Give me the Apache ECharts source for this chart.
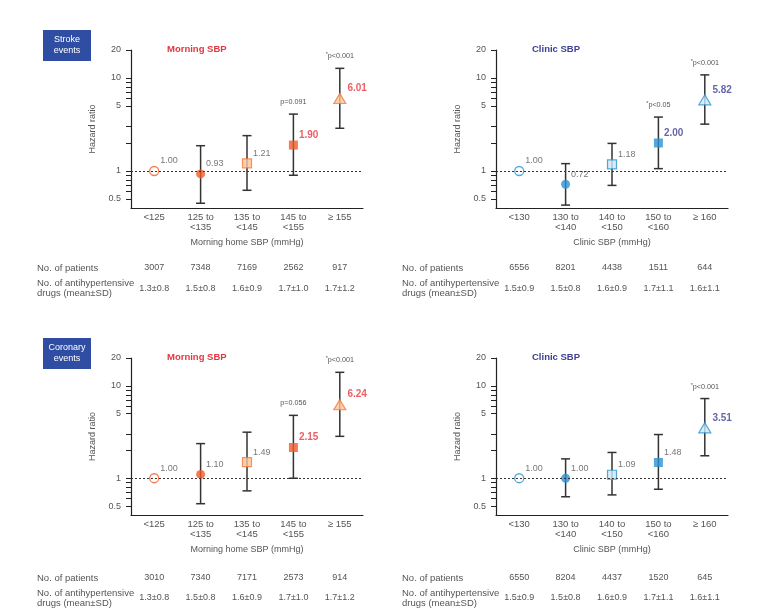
<!DOCTYPE html>
<html>
<head>
<meta charset="utf-8">
<script src="https://cdn.jsdelivr.net/npm/echarts@6/dist/echarts.min.js"></script>
<style>
  html, body { margin: 0; padding: 0; background: #fff; }
  #chart { width: 760px; height: 611px; }
</style>
</head>
<body>
<div id="chart"></div>
<script>
// categories
var morningCats = ['<125', '125 to\n<135', '135 to\n<145', '145 to\n<155', '≥ 155'];
var clinicCats = ['<130', '130 to\n<140', '140 to\n<150', '150 to\n<160', '≥ 160'];

// y axis ticks (hazard ratio, log scale)
var yLabelValues = [0.5, 1, 5, 10, 20];
var yTickValues = [0.5, 0.6, 0.7, 0.8, 0.9, 1, 2, 3, 5, 6, 7, 8, 9, 10, 20];

// stroke events, morning SBP
var strokeMorningHR = [1.00, 0.93, 1.21, 1.90, 6.01];
var strokeMorningLo = [null, 0.45, 0.62, 0.90, 2.88];
var strokeMorningHi = [null, 1.87, 2.40, 4.09, 12.7];
var strokeMorningP = ['', '', '', 'p=0.091', '*p<0.001'];
var strokeMorningN = [3007, 7348, 7169, 2562, 917];
var strokeMorningDrugs = ['1.3±0.8', '1.5±0.8', '1.6±0.9', '1.7±1.0', '1.7±1.2'];
var strokeMorningBold = [3, 4];

// stroke events, clinic SBP
var strokeClinicHR = [1.00, 0.72, 1.18, 2.00, 5.82];
var strokeClinicLo = [null, 0.43, 0.70, 1.06, 3.19];
var strokeClinicHi = [null, 1.20, 1.98, 3.80, 10.8];
var strokeClinicP = ['', '', '', '*p<0.05', '*p<0.001'];
var strokeClinicN = [6556, 8201, 4438, 1511, 644];
var strokeClinicDrugs = ['1.5±0.9', '1.5±0.8', '1.6±0.9', '1.7±1.1', '1.6±1.1'];
var strokeClinicBold = [3, 4];

// coronary events, morning SBP
var coronaryMorningHR = [1.00, 1.10, 1.49, 2.15, 6.24];
var coronaryMorningLo = [null, 0.53, 0.73, 1.00, 2.84];
var coronaryMorningHi = [null, 2.37, 3.15, 4.79, 14.0];
var coronaryMorningP = ['', '', '', 'p=0.056', '*p<0.001'];
var coronaryMorningN = [3010, 7340, 7171, 2573, 914];
var coronaryMorningDrugs = ['1.3±0.8', '1.5±0.8', '1.6±0.9', '1.7±1.0', '1.7±1.2'];
var coronaryMorningBold = [3, 4];

// coronary events, clinic SBP
var coronaryClinicHR = [1.00, 1.00, 1.09, 1.48, 3.51];
var coronaryClinicLo = [null, 0.63, 0.66, 0.76, 1.75];
var coronaryClinicHi = [null, 1.62, 1.90, 2.97, 7.28];
var coronaryClinicP = ['', '', '', '', '*p<0.001'];
var coronaryClinicN = [6550, 8204, 4437, 1520, 645];
var coronaryClinicDrugs = ['1.5±0.9', '1.5±0.8', '1.6±0.9', '1.7±1.1', '1.6±1.1'];
var coronaryClinicBold = [4];

var FONT = '"Liberation Sans", Arial, sans-serif';
var TXT = '#555';
var AX = '#222';
var FS = 9;

var themes = {
    orange: { dark: '#f15a29', light: '#fcc59b', edge: '#f37a3a', title: '#e2373f' },
    blue: { dark: '#2a92d0', light: '#cde9f8', edge: '#2a92d0', title: '#3c3f92' }
};

var panels = [
    { cats: morningCats, hr: strokeMorningHR, lo: strokeMorningLo, hi: strokeMorningHi, p: strokeMorningP,
      n: strokeMorningN, drugs: strokeMorningDrugs, bold: strokeMorningBold, theme: themes.orange,
      axisName: 'Morning home SBP (mmHg)', title: 'Morning SBP', left: 131, top: 50, height: 158, rows: [60, 81] },
    { cats: clinicCats, hr: strokeClinicHR, lo: strokeClinicLo, hi: strokeClinicHi, p: strokeClinicP,
      n: strokeClinicN, drugs: strokeClinicDrugs, bold: strokeClinicBold, theme: themes.blue,
      axisName: 'Clinic SBP (mmHg)', title: 'Clinic SBP', left: 496, top: 50, height: 158, rows: [60, 81] },
    { cats: morningCats, hr: coronaryMorningHR, lo: coronaryMorningLo, hi: coronaryMorningHi, p: coronaryMorningP,
      n: coronaryMorningN, drugs: coronaryMorningDrugs, bold: coronaryMorningBold, theme: themes.orange,
      axisName: 'Morning home SBP (mmHg)', title: 'Morning SBP', left: 131, top: 358, height: 157, rows: [63, 83] },
    { cats: clinicCats, hr: coronaryClinicHR, lo: coronaryClinicLo, hi: coronaryClinicHi, p: coronaryClinicP,
      n: coronaryClinicN, drugs: coronaryClinicDrugs, bold: coronaryClinicBold, theme: themes.blue,
      axisName: 'Clinic SBP (mmHg)', title: 'Clinic SBP', left: 496, top: 358, height: 157, rows: [63, 83] }
];

function markerFor(i, th) {
    if (i === 0) return { symbol: 'circle', symbolSize: 9, itemStyle: { color: '#fff', borderColor: th.dark, borderWidth: 1.3 } };
    if (i === 1) return { symbol: 'circle', symbolSize: 9, itemStyle: { color: th.dark } };
    if (i === 2) return { symbol: 'rect', symbolSize: 9, itemStyle: { color: th.light, borderColor: th.edge, borderWidth: 1.2 } };
    if (i === 3) return { symbol: 'rect', symbolSize: 9, itemStyle: { color: th.dark } };
    return { symbol: 'triangle', symbolSize: [12, 10], itemStyle: { color: th.light, borderColor: th.edge, borderWidth: 1.2 } };
}

var grid = [], xAxis = [], yAxis = [], series = [], title = [];

panels.forEach(function (p, g) {
    grid.push({ left: p.left, top: p.top, width: 232, height: p.height });

    // main category axis
    xAxis.push({
        type: 'category', gridIndex: g, data: p.cats, boundaryGap: true,
        axisLine: { onZero: false, lineStyle: { color: AX, width: 1.2 } },
        axisTick: { length: 5, lineStyle: { color: AX, width: 1.2 } },
        axisLabel: { interval: 0, color: TXT, fontSize: 9.5, lineHeight: 10, margin: 4, fontFamily: FONT },
        name: p.axisName, nameLocation: 'middle', nameGap: 35,
        nameTextStyle: { color: TXT, fontSize: FS, fontFamily: FONT, verticalAlign: 'middle' }
    });
    // table rows: no. of patients, drugs
    xAxis.push({
        type: 'category', gridIndex: g, data: p.n.map(String), position: 'bottom', offset: p.rows[0],
        axisLine: { show: false, onZero: false }, axisTick: { show: false },
        axisLabel: { interval: 0, color: TXT, fontSize: FS, margin: 0, verticalAlign: 'middle', fontFamily: FONT }
    });
    xAxis.push({
        type: 'category', gridIndex: g, data: p.drugs, position: 'bottom', offset: p.rows[1],
        axisLine: { show: false, onZero: false }, axisTick: { show: false },
        axisLabel: { interval: 0, color: TXT, fontSize: FS, margin: 0, verticalAlign: 'middle', fontFamily: FONT }
    });

    yAxis.push({
        type: 'value', gridIndex: g, min: Math.log10(0.4), max: Math.log10(20),
        axisLine: { show: true, onZero: false, lineStyle: { color: AX, width: 1.2 } },
        axisTick: { show: true, length: 5, customValues: yTickValues.map(Math.log10), lineStyle: { color: AX } },
        axisLabel: {
            customValues: yLabelValues.map(Math.log10), color: TXT, fontSize: FS, margin: 10, fontFamily: FONT,
            formatter: function (v) { return String(Math.round(Math.pow(10, v) * 10) / 10); }
        },
        splitLine: { show: false },
        name: 'Hazard ratio', nameLocation: 'middle', nameGap: 38,
        nameTextStyle: { color: TXT, fontSize: FS, fontFamily: FONT, verticalAlign: 'middle' }
    });

    title.push({
        text: p.title, left: p.left + 36, top: p.top - 6, padding: 0,
        textStyle: { color: p.theme.title, fontSize: 9.5, fontWeight: 'bold', fontFamily: FONT }
    });

    // error bars with p-values
    var errData = [];
    p.hr.forEach(function (v, i) {
        if (p.lo[i] != null) errData.push([i, Math.log10(p.lo[i]), Math.log10(p.hi[i])]);
    });
    series.push({
        type: 'custom', xAxisIndex: g * 3, yAxisIndex: g, data: errData, z: 2,
        renderItem: function (params, api) {
            var i = api.value(0);
            var top = api.coord([i, api.value(2)]);
            var bot = api.coord([i, api.value(1)]);
            var w = 4.5;
            var st = { stroke: '#333', lineWidth: 1.5 };
            var kids = [
                { type: 'line', shape: { x1: top[0], y1: top[1], x2: bot[0], y2: bot[1] }, style: st },
                { type: 'line', shape: { x1: top[0] - w, y1: top[1], x2: top[0] + w, y2: top[1] }, style: st },
                { type: 'line', shape: { x1: bot[0] - w, y1: bot[1], x2: bot[0] + w, y2: bot[1] }, style: st }
            ];
            var txt = p.p[i];
            if (txt) {
                kids.push({
                    type: 'text',
                    style: {
                        text: txt.replace('*', '{s|*}'), x: top[0], y: top[1] - 12,
                        align: 'center', verticalAlign: 'middle', fill: TXT,
                        fontSize: 7.2, fontFamily: FONT, lineHeight: 9,
                        rich: { s: { fontSize: 5.5, fill: TXT, verticalAlign: 'top', lineHeight: 9 } }
                    }
                });
            }
            return { type: 'group', children: kids };
        }
    });

    // point estimates
    series.push({
        type: 'scatter', xAxisIndex: g * 3, yAxisIndex: g, z: 3,
        data: p.hr.map(function (v, i) {
            var m = markerFor(i, p.theme);
            var strong = p.bold.indexOf(i) >= 0;
            return {
                value: [i, Math.log10(v)], symbol: m.symbol, symbolSize: m.symbolSize, itemStyle: m.itemStyle,
                label: {
                    show: true, position: 'right', distance: 1, offset: [0, -10],
                    formatter: v.toFixed(2),
                    color: strong ? p.theme.title : TXT,
                    fontSize: strong ? 10 : 9,
                    fontWeight: strong ? 'bold' : 'normal',
                    fontFamily: FONT
                }
            };
        }),
        markLine: {
            silent: true, symbol: ['none', 'none'], label: { show: false },
            lineStyle: { color: '#333', type: [2, 2], width: 1 },
            data: [{ yAxis: 0 }]
        }
    });
});

function box(x, y, text) {
    return {
        type: 'group', left: x, top: y,
        children: [
            { type: 'rect', shape: { x: 0, y: 0, width: 48, height: 31 }, style: { fill: '#2f4ea3' } },
            { type: 'text', x: 24, y: 15.5, style: { text: text, fill: '#fff', fontSize: 9, fontFamily: FONT,
                align: 'center', verticalAlign: 'middle', lineHeight: 11 } }
        ]
    };
}
function rowHead(x, y, text) {
    return { type: 'text', left: x, top: y, style: { text: text, fill: TXT, fontSize: 9.5, fontFamily: FONT, lineHeight: 10 } };
}

var chart = echarts.init(document.getElementById('chart'));
chart.setOption({
    animation: false,
    title: title,
    grid: grid,
    xAxis: xAxis,
    yAxis: yAxis,
    series: series,
    graphic: [
        box(43, 30, 'Stroke\nevents'),
        box(43, 338, 'Coronary\nevents'),
        rowHead(37, 263, 'No. of patients'),
        rowHead(37, 278, 'No. of antihypertensive\ndrugs (mean±SD)'),
        rowHead(402, 263, 'No. of patients'),
        rowHead(402, 278, 'No. of antihypertensive\ndrugs (mean±SD)'),
        rowHead(37, 573, 'No. of patients'),
        rowHead(37, 588, 'No. of antihypertensive\ndrugs (mean±SD)'),
        rowHead(402, 573, 'No. of patients'),
        rowHead(402, 588, 'No. of antihypertensive\ndrugs (mean±SD)')
    ]
});
</script>
</body>
</html>
